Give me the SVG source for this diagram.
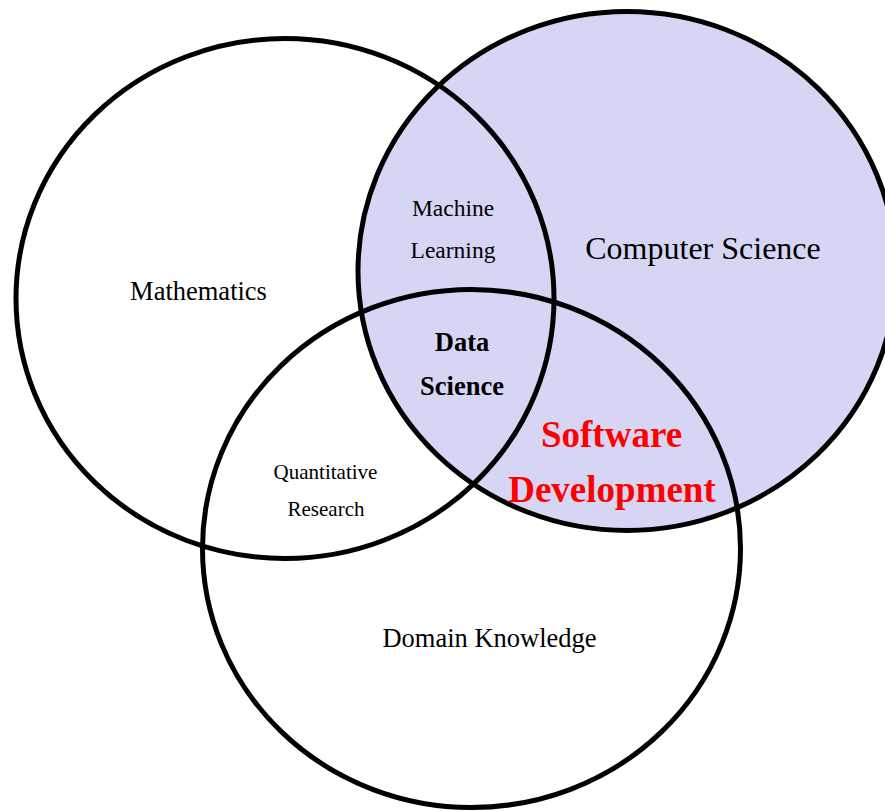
<svg xmlns="http://www.w3.org/2000/svg" width="885" height="811" viewBox="0 0 885 811">
  <style>
    .set { stroke: #000; stroke-width: 5; }
    .open { fill: none; }
    .cs { fill: #d6d6f4; }
    text { font-family: "Liberation Serif", "Times New Roman", serif; text-anchor: middle; fill: #000; }
    .big { font-size: 32px; }
    .mid { font-size: 26.5px; }
    .small { font-size: 23.5px; }
    .tiny { font-size: 21px; }
    .core { font-size: 26.5px; font-weight: bold; }
    .hl { font-size: 37px; font-weight: bold; fill: #ff0000; }
  </style>
  <rect width="885" height="811" fill="#fff"/>

  <!-- the three sets -->
  <g id="computer-science">
    <ellipse class="set cs" cx="627" cy="271" rx="269" ry="259.5"/>
  </g>
  <g id="mathematics">
    <ellipse class="set open" cx="285" cy="298.5" rx="269" ry="260"/>
  </g>
  <g id="domain-knowledge">
    <ellipse class="set open" cx="471.5" cy="548.5" rx="269" ry="259"/>
  </g>

  <!-- set labels -->
  <g id="labels">
    <text class="mid" x="198.5" y="300">Mathematics</text>
    <text class="big" x="703" y="259">Computer Science</text>
    <text class="mid" x="489.5" y="647">Domain Knowledge</text>
  </g>

  <!-- overlap labels -->
  <g id="machine-learning">
    <text class="small" x="453" y="216">Machine</text>
    <text class="small" x="453" y="258">Learning</text>
  </g>
  <g id="data-science">
    <text class="core" x="462" y="351">Data</text>
    <text class="core" x="462" y="395">Science</text>
  </g>
  <g id="quantitative-research">
    <text class="tiny" x="325.5" y="479">Quantitative</text>
    <text class="tiny" x="326" y="516">Research</text>
  </g>
  <g id="software-development">
    <text class="hl" x="611.5" y="447">Software</text>
    <text class="hl" x="612" y="502">Development</text>
  </g>
</svg>
